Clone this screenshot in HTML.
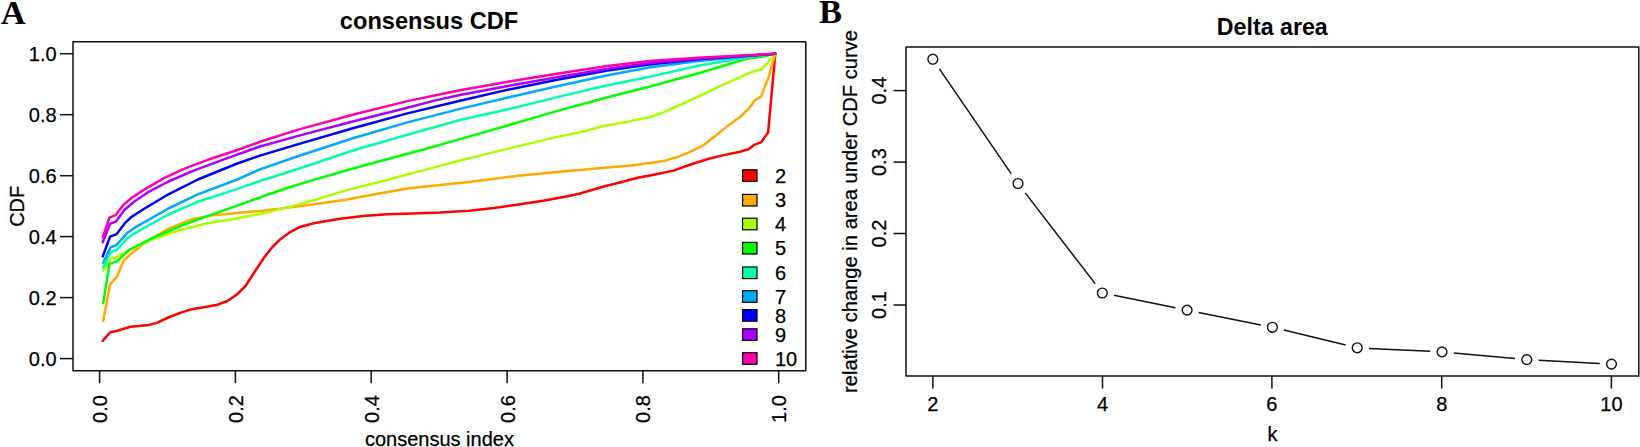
<!DOCTYPE html>
<html lang="en"><head><meta charset="utf-8"><title>Consensus CDF and Delta area</title>
<style>html,body{margin:0;padding:0;background:#fff;}body{width:1640px;height:447px;overflow:hidden;}svg{display:block;}text{font-family:'Liberation Sans', Arial, sans-serif;fill:#000;stroke:#000;stroke-width:0.25px;}.lab{font-size:20px;}.leg{font-size:20px;}.ttl{font-size:24px;font-weight:bold;stroke:none;}.pan{font-family:'Liberation Serif', 'Times New Roman', serif;font-weight:bold;font-size:34.5px;stroke:none;}.ax{stroke:#111;stroke-width:1.5;fill:none;stroke-linejoin:round;}.cv{fill:none;stroke-width:2.5;stroke-linejoin:round;stroke-linecap:round;}</style></head><body>
<svg width="1640" height="447" viewBox="0 0 1640 447">
<rect width="1640" height="447" fill="#fff"/>
<text class="pan" x="0.8" y="23.5">A</text>
<text class="ttl" style="font-size:23.6px" x="429" y="28.9" text-anchor="middle">consensus CDF</text>
<path class="cv" stroke="#FF0000" d="M102.7 340.9 L110.1 332.3 L116.7 331.0 L130.3 326.8 L138.9 326.1 L148.7 324.9 L156.1 323.1 L168.4 317.5 L180.7 312.6 L193.0 308.9 L205.3 306.9 L217.6 304.7 L227.4 301.0 L237.3 294.1 L245.9 285.5 L254.5 272.0 L264.3 257.2 L272.0 247.5 L279.4 240.1 L289.2 232.7 L299.0 227.3 L313.8 223.2 L338.4 219.0 L363.0 216.0 L387.6 214.3 L412.2 213.5 L440.0 212.6 L469.2 210.8 L494.0 208.0 L518.4 204.6 L543.0 200.8 L567.6 196.2 L580.0 193.5 L604.6 186.3 L620.0 182.5 L629.2 180.0 L639.0 177.5 L653.8 174.8 L673.5 170.6 L690.7 164.5 L707.9 159.0 L722.7 155.4 L739.9 151.7 L748.5 149.2 L754.7 144.6 L761.3 142.1 L768.1 132.4 L769.8 113.8 L775.3 53.8"/>
<path class="cv" stroke="#FFAA00" d="M103.2 320.7 L110.1 284.3 L116.7 276.9 L124.1 259.7 L131.5 253.5 L143.8 243.5 L168.4 228.7 L193.0 218.9 L212.7 215.2 L237.3 213.0 L264.6 210.6 L289.2 207.6 L313.8 204.3 L344.0 200.0 L363.0 196.6 L387.6 192.0 L407.4 188.6 L440.0 185.0 L469.2 182.0 L518.4 175.8 L567.6 171.0 L580.0 170.1 L604.6 167.7 L629.2 165.7 L653.8 162.5 L666.1 160.4 L678.4 156.6 L690.7 151.7 L703.0 145.4 L715.3 135.9 L727.6 125.9 L739.9 117.0 L748.6 108.8 L755.0 100.3 L761.1 96.4 L768.4 77.6 L775.3 53.8"/>
<path class="cv" stroke="#AAFF00" d="M103.2 270.8 L110.6 258.9 L116.7 257.2 L129.0 250.1 L151.2 239.8 L180.7 230.0 L205.3 223.8 L237.3 218.3 L264.6 213.1 L289.2 206.9 L315.7 199.8 L338.4 192.6 L353.7 188.4 L387.6 180.0 L407.4 174.4 L420.0 171.1 L460.0 160.5 L509.2 148.4 L558.4 136.6 L580.0 132.2 L604.6 125.8 L629.2 121.4 L649.2 117.3 L661.5 113.3 L673.8 107.7 L690.7 100.0 L706.1 92.8 L723.0 84.6 L735.0 79.6 L747.6 73.6 L755.0 70.9 L761.2 69.7 L768.3 62.3 L775.3 53.8"/>
<path class="cv" stroke="#00FF00" d="M103.2 303.2 L109.4 263.9 L116.7 261.6 L129.0 250.0 L151.2 238.6 L180.7 225.8 L205.3 216.9 L237.3 205.6 L264.6 195.8 L289.2 187.2 L313.8 179.9 L338.4 172.7 L353.7 168.2 L407.4 153.7 L420.0 150.5 L460.0 139.1 L509.2 125.0 L558.4 110.6 L607.6 97.3 L649.2 86.7 L698.4 73.2 L722.0 66.2 L747.6 58.6 L762.4 56.7 L775.3 53.8"/>
<path class="cv" stroke="#00FFAA" d="M103.2 267.6 L110.6 252.0 L116.7 250.0 L126.6 239.0 L134.0 233.6 L168.4 214.5 L197.9 201.7 L237.3 188.9 L260.0 181.0 L300.0 168.2 L353.7 150.3 L407.4 134.7 L460.0 120.0 L509.2 109.0 L558.4 96.9 L607.6 85.3 L649.2 76.9 L698.4 65.8 L722.0 61.4 L747.6 57.2 L775.3 53.8"/>
<path class="cv" stroke="#00AAFF" d="M103.2 262.6 L110.6 247.3 L116.7 245.0 L126.6 233.6 L134.0 228.2 L168.4 208.5 L197.9 194.3 L237.3 179.5 L260.0 169.4 L300.0 155.5 L353.7 138.0 L407.4 122.4 L460.0 108.9 L509.2 97.2 L558.4 86.0 L607.6 75.2 L649.2 67.6 L698.4 60.9 L747.6 56.2 L775.3 53.8"/>
<path class="cv" stroke="#0000FF" d="M102.7 256.4 L110.1 236.6 L116.7 234.1 L125.4 222.6 L131.5 216.9 L143.8 209.0 L168.4 194.3 L197.9 179.5 L237.3 163.5 L260.0 155.6 L300.0 143.6 L353.7 128.0 L407.4 113.4 L460.0 100.8 L509.2 89.4 L558.4 79.5 L607.6 70.6 L649.2 64.6 L698.4 59.2 L747.6 55.7 L775.3 53.8"/>
<path class="cv" stroke="#AA00FF" d="M102.7 242.3 L110.1 223.8 L116.2 221.3 L124.1 210.3 L134.0 201.7 L148.7 191.8 L168.4 181.5 L193.0 170.9 L222.5 159.8 L260.0 146.5 L300.0 135.4 L353.7 121.3 L407.4 107.8 L434.3 100.6 L460.0 95.0 L509.2 85.7 L558.4 77.1 L607.6 68.7 L649.2 62.9 L698.4 58.5 L747.6 55.5 L775.3 53.8"/>
<path class="cv" stroke="#FF00AA" d="M102.7 237.3 L109.4 217.7 L115.5 215.2 L122.9 205.4 L131.5 198.0 L143.8 189.9 L163.5 178.3 L183.2 169.2 L207.8 159.8 L237.3 150.0 L260.0 141.8 L300.0 129.1 L353.7 114.5 L407.4 101.1 L460.0 90.3 L509.2 81.5 L558.4 73.4 L607.6 66.1 L649.2 60.9 L698.4 57.7 L747.6 55.3 L775.3 53.8"/>
<rect class="ax" x="73.0" y="41.7" width="732.8" height="329.0"/>
<path class="ax" d="M60.0 358.6 H73.0"/>
<text class="lab" x="56.6" y="365.8" text-anchor="end">0.0</text>
<path class="ax" d="M60.0 297.6 H73.0"/>
<text class="lab" x="56.6" y="304.8" text-anchor="end">0.2</text>
<path class="ax" d="M60.0 236.6 H73.0"/>
<text class="lab" x="56.6" y="243.8" text-anchor="end">0.4</text>
<path class="ax" d="M60.0 175.7 H73.0"/>
<text class="lab" x="56.6" y="182.8" text-anchor="end">0.6</text>
<path class="ax" d="M60.0 114.7 H73.0"/>
<text class="lab" x="56.6" y="121.8" text-anchor="end">0.8</text>
<path class="ax" d="M60.0 53.7 H73.0"/>
<text class="lab" x="56.6" y="60.8" text-anchor="end">1.0</text>
<path class="ax" d="M99.6 370.7 V383.2"/>
<text class="lab" transform="translate(107.0 422.9) rotate(-90)">0.0</text>
<path class="ax" d="M235.4 370.7 V383.2"/>
<text class="lab" transform="translate(242.8 422.9) rotate(-90)">0.2</text>
<path class="ax" d="M371.2 370.7 V383.2"/>
<text class="lab" transform="translate(378.6 422.9) rotate(-90)">0.4</text>
<path class="ax" d="M507.1 370.7 V383.2"/>
<text class="lab" transform="translate(514.5 422.9) rotate(-90)">0.6</text>
<path class="ax" d="M642.9 370.7 V383.2"/>
<text class="lab" transform="translate(650.3 422.9) rotate(-90)">0.8</text>
<path class="ax" d="M778.7 370.7 V383.2"/>
<text class="lab" transform="translate(786.1 422.9) rotate(-90)">1.0</text>
<text class="lab" transform="translate(24.2 206.3) rotate(-90)" text-anchor="middle">CDF</text>
<text class="lab" x="439.4" y="445.9" text-anchor="middle">consensus index</text>
<rect x="742.6" y="169.8" width="14.4" height="11.6" fill="#FF0000" stroke="#000" stroke-width="1.2"/>
<text class="leg" x="774.9" y="182.7">2</text>
<rect x="742.6" y="194.4" width="14.4" height="11.6" fill="#FFAA00" stroke="#000" stroke-width="1.2"/>
<text class="leg" x="774.9" y="207.3">3</text>
<rect x="742.6" y="218.2" width="14.4" height="11.6" fill="#AAFF00" stroke="#000" stroke-width="1.2"/>
<text class="leg" x="774.9" y="231.1">4</text>
<rect x="742.6" y="242.4" width="14.4" height="11.6" fill="#00FF00" stroke="#000" stroke-width="1.2"/>
<text class="leg" x="774.9" y="255.3">5</text>
<rect x="742.6" y="267.0" width="14.4" height="11.6" fill="#00FFAA" stroke="#000" stroke-width="1.2"/>
<text class="leg" x="774.9" y="279.9">6</text>
<rect x="742.6" y="290.7" width="14.4" height="11.6" fill="#00AAFF" stroke="#000" stroke-width="1.2"/>
<text class="leg" x="774.9" y="303.6">7</text>
<rect x="742.6" y="309.6" width="14.4" height="11.6" fill="#0000FF" stroke="#000" stroke-width="1.2"/>
<text class="leg" x="774.9" y="322.5">8</text>
<rect x="742.6" y="328.8" width="14.4" height="11.6" fill="#AA00FF" stroke="#000" stroke-width="1.2"/>
<text class="leg" x="774.9" y="341.7">9</text>
<rect x="742.6" y="352.7" width="14.4" height="11.6" fill="#FF00AA" stroke="#000" stroke-width="1.2"/>
<text class="leg" x="774.9" y="365.6">10</text>
<text class="pan" x="818.9" y="23.4">B</text>
<text class="ttl" style="font-size:23.2px" x="1272.3" y="34.5" text-anchor="middle">Delta area</text>
<rect class="ax" x="906.0" y="46.9" width="732.8" height="329.2"/>
<path class="ax" d="M939.4 68.9 L1011.3 173.8"/>
<path class="ax" d="M1025.2 192.9 L1095.1 283.6"/>
<path class="ax" d="M1113.9 295.3 L1175.5 307.8"/>
<path class="ax" d="M1198.7 312.4 L1260.8 325.0"/>
<path class="ax" d="M1283.9 330.1 L1345.7 345.0"/>
<path class="ax" d="M1369.0 348.4 L1430.2 351.3"/>
<path class="ax" d="M1453.8 353.0 L1515.0 358.5"/>
<path class="ax" d="M1538.6 360.2 L1599.7 363.5"/>
<circle cx="932.8" cy="59.2" r="4.9" fill="none" stroke="#111" stroke-width="1.4"/>
<circle cx="1018.0" cy="183.5" r="4.9" fill="none" stroke="#111" stroke-width="1.4"/>
<circle cx="1102.3" cy="293.0" r="4.9" fill="none" stroke="#111" stroke-width="1.4"/>
<circle cx="1187.1" cy="310.1" r="4.9" fill="none" stroke="#111" stroke-width="1.4"/>
<circle cx="1272.4" cy="327.3" r="4.9" fill="none" stroke="#111" stroke-width="1.4"/>
<circle cx="1357.2" cy="347.8" r="4.9" fill="none" stroke="#111" stroke-width="1.4"/>
<circle cx="1442.0" cy="351.9" r="4.9" fill="none" stroke="#111" stroke-width="1.4"/>
<circle cx="1526.8" cy="359.6" r="4.9" fill="none" stroke="#111" stroke-width="1.4"/>
<circle cx="1611.5" cy="364.1" r="4.9" fill="none" stroke="#111" stroke-width="1.4"/>
<path class="ax" d="M893.5 305.0 H906.0"/>
<text class="lab" transform="translate(885.6 305.0) rotate(-90)" text-anchor="middle">0.1</text>
<path class="ax" d="M893.5 233.5 H906.0"/>
<text class="lab" transform="translate(885.6 233.5) rotate(-90)" text-anchor="middle">0.2</text>
<path class="ax" d="M893.5 162.1 H906.0"/>
<text class="lab" transform="translate(885.6 162.1) rotate(-90)" text-anchor="middle">0.3</text>
<path class="ax" d="M893.5 90.6 H906.0"/>
<text class="lab" transform="translate(885.6 90.6) rotate(-90)" text-anchor="middle">0.4</text>
<path class="ax" d="M932.9 376.1 V388.6"/>
<text class="lab" x="932.9" y="411.2" text-anchor="middle">2</text>
<path class="ax" d="M1102.5 376.1 V388.6"/>
<text class="lab" x="1102.5" y="411.2" text-anchor="middle">4</text>
<path class="ax" d="M1271.9 376.1 V388.6"/>
<text class="lab" x="1271.9" y="411.2" text-anchor="middle">6</text>
<path class="ax" d="M1441.7 376.1 V388.6"/>
<text class="lab" x="1441.7" y="411.2" text-anchor="middle">8</text>
<path class="ax" d="M1611.4 376.1 V388.6"/>
<text class="lab" x="1611.4" y="411.2" text-anchor="middle">10</text>
<text class="lab" x="1272.4" y="441.3" text-anchor="middle">k</text>
<text class="lab" style="font-size:20.17px" transform="translate(856.9 211.45) rotate(-90)" text-anchor="middle">relative change in area under CDF curve</text>
</svg></body></html>
